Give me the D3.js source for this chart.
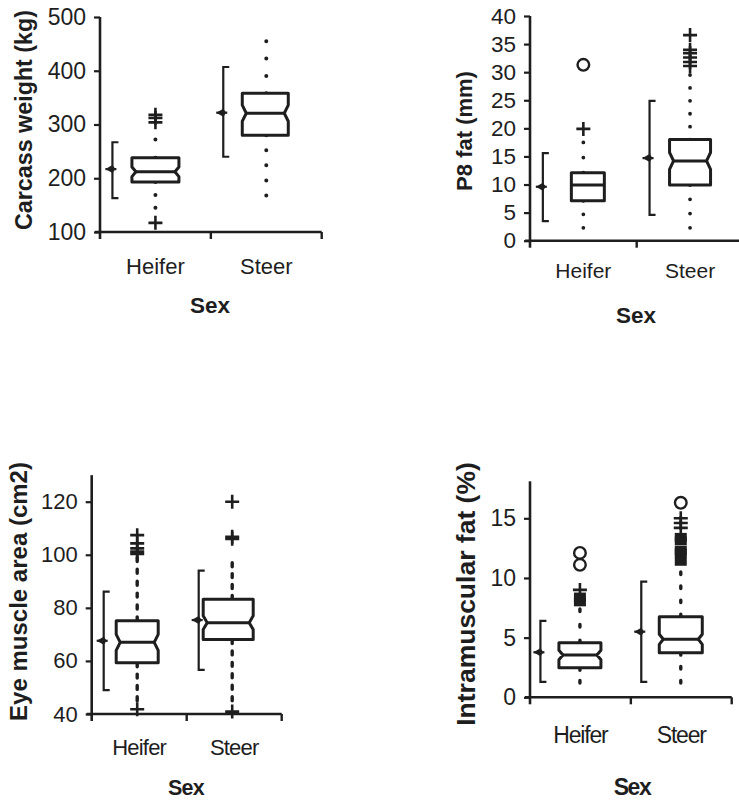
<!DOCTYPE html>
<html>
<head>
<meta charset="utf-8">
<script src="https://cdn.jsdelivr.net/npm/d3@7"></script>
<style>
  body { margin: 0; background: #fff; }
  svg { display: block; }
</style>
</head>
<body>
<svg id="chart" width="739" height="806"></svg>
<script>
const categories = ["Heifer", "Steer"];

// Carcass weight (kg)
const cwTicks = [100, 200, 300, 400, 500];
const cwQ1 = [193, 280];
const cwMedian = [212, 321];
const cwQ3 = [238, 358];
const cwNotch = [9, 15];
const cwLow = [145, 168];
const cwHigh = [272, 455];
const cwMean = [217, 322];
const cwSdLow = [163, 240];
const cwSdHigh = [267, 407];
const cwCross = [[117, 304, 312, 318], []];
const cwCircle = [[], []];
const cwSquare = [[], []];

// P8 fat (mm)
const p8Ticks = [0, 5, 10, 15, 20, 25, 30, 35, 40];
const p8Q1 = [7.1, 9.9];
const p8Median = [9.9, 14.2];
const p8Q3 = [12.1, 18.0];
const p8Notch = [0, 1.5];
const p8Low = [2.3, 2.3];
const p8High = [17.5, 29.5];
const p8Mean = [9.6, 14.7];
const p8SdLow = [3.5, 4.6];
const p8SdHigh = [15.6, 24.9];
const p8Cross = [[19.9], [31.1, 31.8, 32.6, 33.4, 34.0, 36.6]];
const p8Circle = [[31.3], []];
const p8Square = [[], []];

// Eye muscle area (cm2)
const emaTicks = [40, 60, 80, 100, 120];
const emaQ1 = [59.3, 68.1];
const emaMedian = [67.0, 74.4];
const emaQ3 = [75.1, 83.2];
const emaNotch = [3.0, 2.6];
const emaLow = [45, 45];
const emaHigh = [99, 97];
const emaMean = [67.6, 75.4];
const emaSdLow = [49, 56.6];
const emaSdHigh = [86.1, 94];
const emaCross = [[41.8, 100.3, 101.2, 102.4, 104.3, 107.4], [40.9, 106.0, 106.8, 120.0]];
const emaCircle = [[], []];
const emaSquare = [[], []];

// Intramuscular fat (%)
const imfTicks = [0, 5, 10, 15];
const imfQ1 = [2.48, 3.74];
const imfMedian = [3.54, 4.86];
const imfQ3 = [4.58, 6.76];
const imfNotch = [0.4, 0.42];
const imfLow = [1.2, 1.2];
const imfHigh = [7.4, 10.5];
const imfMean = [3.77, 5.5];
const imfSdLow = [1.3, 1.3];
const imfSdHigh = [6.4, 9.7];
const imfCross = [[9.0], [14.2, 14.6, 15.0]];
const imfCircle = [[11.1, 12.1], [16.3]];
const imfSquare = [[8.0, 8.4], [11.4, 12.1, 12.3, 13.1, 13.4]];

const ink = "#1e1e1e";
const font = "'Liberation Sans', Arial, Helvetica, sans-serif";
const svg = d3.select("#chart");

const panels = [
  {
    title: "Carcass weight (kg)", ticks: cwTicks, domain: [100, 500], top: 500,
    yRange: [232, 17], x0: 100, x1: 321.7,
    q1: cwQ1, med: cwMedian, q3: cwQ3, notch: cwNotch, low: cwLow, high: cwHigh,
    mean: cwMean, sdLow: cwSdLow, sdHigh: cwSdHigh,
    cross: cwCross, circle: cwCircle, square: cwSquare,
    boxW: [47, 46], boxDx: [0, -1], centerDx: 0, meanDx: -43,
    dotW: 4, dashLen: 0, dotGap: 16,
    tickFont: 23, catFont: 22, catLs: 0, catY: 274,
    titleFont: 23.3, titleX: 32, titleY: 120,
    sexFont: 22.5, sexLs: 0, sexX: 210, sexY: 313
  },
  {
    title: "P8 fat (mm)", ticks: p8Ticks, domain: [0, 40], top: 40,
    yRange: [240.7, 16], x0: 530, x1: 743.4,
    q1: p8Q1, med: p8Median, q3: p8Q3, notch: p8Notch, low: p8Low, high: p8High,
    mean: p8Mean, sdLow: p8SdLow, sdHigh: p8SdHigh,
    cross: p8Cross, circle: p8Circle, square: p8Square,
    boxW: [33, 41], boxDx: [4.5, 0], centerDx: 0, meanDx: -40.5,
    dotW: 3.8, dashLen: 0, dotGap: 12.5,
    tickFont: 22.5, catFont: 21, catLs: 0, catY: 278,
    titleFont: 22, titleX: 471.5, titleY: 131,
    sexFont: 22.5, sexLs: 0, sexX: 636, sexY: 322.7
  },
  {
    title: "Eye muscle area (cm2)", ticks: emaTicks, domain: [40, 120], top: 130,
    yRange: [714, 501.7], x0: 91.7, x1: 281.7,
    q1: emaQ1, med: emaMedian, q3: emaQ3, notch: emaNotch, low: emaLow, high: emaHigh,
    mean: emaMean, sdLow: emaSdLow, sdHigh: emaSdHigh,
    cross: emaCross, circle: emaCircle, square: emaSquare,
    boxW: [42, 50], boxDx: [0, -4], centerDx: -2, meanDx: -33.5,
    dotW: 3.4, dashLen: 4, dotGap: 12,
    tickFont: 22, catFont: 22, catLs: -0.8, catY: 755,
    titleFont: 24, titleX: 26.5, titleY: 591.5,
    sexFont: 21.5, sexLs: -0.8, sexX: 186, sexY: 795
  },
  {
    title: "Intramuscular fat (%)", ticks: imfTicks, domain: [0, 15], top: 18.1,
    yRange: [697.3, 518.3], x0: 530, x1: 731.7,
    q1: imfQ1, med: imfMedian, q3: imfQ3, notch: imfNotch, low: imfLow, high: imfHigh,
    mean: imfMean, sdLow: imfSdLow, sdHigh: imfSdHigh,
    cross: imfCross, circle: imfCircle, square: imfSquare,
    boxW: [42, 43], boxDx: [0, 0], centerDx: -0.5, meanDx: -39.5,
    dotW: 3.4, dashLen: 2.5, dotGap: 13.5,
    tickFont: 23, catFont: 23, catLs: -1.2, catY: 743,
    titleFont: 26.5, titleX: 475, titleY: 594,
    sexFont: 23, sexLs: -1.5, sexX: 632, sexY: 795
  }
];

function notchedBox(cx, w, yTop, yBot, yMed, nh, depth) {
  const l = cx - w / 2, r = cx + w / 2;
  const p = d3.path();
  if (nh <= 0) {
    p.rect(l, yTop, w, yBot - yTop);
    return p.toString();
  }
  p.moveTo(l, yTop);
  p.lineTo(r, yTop);
  p.lineTo(r, yMed - nh);
  p.lineTo(r - depth, yMed);
  p.lineTo(r, yMed + nh);
  p.lineTo(r, yBot);
  p.lineTo(l, yBot);
  p.lineTo(l, yMed + nh);
  p.lineTo(l + depth, yMed);
  p.lineTo(l, yMed - nh);
  p.closePath();
  return p.toString();
}

function drawPanel(p) {
  const g = svg.append("g");
  const y = d3.scaleLinear().domain(p.domain).range(p.yRange);
  const x = d3.scaleBand().domain(categories).range([p.x0, p.x1]);
  const cx = c => x(c) + x.bandwidth() / 2 + p.centerDx;
  const baseY = y(p.domain[0]);
  const topY = y(p.top);

  // y axis ticks and labels
  const ya = g.append("g")
    .attr("transform", `translate(${p.x0},0)`)
    .call(d3.axisLeft(y).tickValues(p.ticks).tickSize(6).tickPadding(8).tickSizeOuter(0));
  ya.select(".domain").remove();
  ya.attr("font-family", font).attr("font-size", p.tickFont);
  ya.selectAll(".tick line").attr("stroke", ink).attr("stroke-width", 2.2);
  ya.selectAll(".tick text").attr("fill", ink);

  // axis lines
  g.append("line")
    .attr("x1", p.x0).attr("x2", p.x0)
    .attr("y1", topY).attr("y2", baseY + 7)
    .attr("stroke", ink).attr("stroke-width", 2.6);
  g.append("line")
    .attr("x1", p.x0 - 5).attr("x2", p.x1)
    .attr("y1", baseY).attr("y2", baseY)
    .attr("stroke", ink).attr("stroke-width", 2.6);
  const bounds = [x(categories[1]), x.range()[1]];
  g.selectAll(".bound").data(bounds).enter().append("line")
    .attr("x1", d => d).attr("x2", d => d)
    .attr("y1", baseY).attr("y2", baseY + 7)
    .attr("stroke", ink).attr("stroke-width", 2.4);

  // category labels
  g.selectAll(".cat").data(categories).enter().append("text")
    .attr("x", c => x(c) + x.bandwidth() / 2)
    .attr("y", p.catY)
    .attr("text-anchor", "middle")
    .attr("font-family", font).attr("font-size", p.catFont)
    .attr("letter-spacing", p.catLs)
    .attr("fill", ink)
    .text(c => c);

  // axis titles
  g.append("text")
    .attr("transform", `translate(${p.titleX},${p.titleY}) rotate(-90)`)
    .attr("text-anchor", "middle")
    .attr("font-family", font).attr("font-size", p.titleFont).attr("font-weight", "bold")
    .attr("fill", ink)
    .text(p.title);
  g.append("text")
    .attr("x", p.sexX).attr("y", p.sexY)
    .attr("text-anchor", "middle")
    .attr("font-family", font).attr("font-size", p.sexFont).attr("font-weight", "bold")
    .attr("letter-spacing", p.sexLs)
    .attr("fill", ink)
    .text("Sex");

  categories.forEach((c, i) => {
    const xc = cx(c);
    const bx = xc + p.boxDx[i];
    const yTop = y(p.q3[i]), yBot = y(p.q1[i]), yMed = y(p.med[i]);
    const nh = p.notch[i] > 0 ? Math.abs(y(p.med[i] + p.notch[i]) - yMed) : 0;
    const depth = 4;

    // dotted whiskers, spaced so the last mark sits on the whisker end
    [[yTop, y(p.high[i])], [yBot, y(p.low[i])]].forEach(([a, b]) => {
      const dir = Math.sign(b - a);
      const len = Math.abs(b - a) - p.dashLen;
      const n = Math.max(1, Math.round(len / p.dotGap));
      const gap = len / n;
      g.append("line")
        .attr("x1", xc).attr("x2", xc).attr("y1", a).attr("y2", b + dir * 1.5)
        .attr("stroke", ink).attr("stroke-width", p.dotW)
        .attr("stroke-linecap", "round")
        .attr("stroke-dasharray", `${p.dashLen} ${gap - p.dashLen}`);
    });

    // box
    g.append("path")
      .attr("d", notchedBox(bx, p.boxW[i], yTop, yBot, yMed, nh, depth))
      .attr("fill", "#fff").attr("stroke", ink).attr("stroke-width", 3)
      .attr("stroke-linejoin", "round");
    const inset = nh > 0 ? depth : 0;
    g.append("line")
      .attr("x1", bx - p.boxW[i] / 2 + inset).attr("x2", bx + p.boxW[i] / 2 - inset)
      .attr("y1", yMed).attr("y2", yMed)
      .attr("stroke", ink).attr("stroke-width", 3);

    // mean ± SD bracket
    const mx = xc + p.meanDx;
    const yHi = y(p.sdHigh[i]), yLo = y(p.sdLow[i]), yM = y(p.mean[i]);
    g.append("path")
      .attr("d", `M${mx + 6},${yHi}H${mx}V${yLo}H${mx + 6}`)
      .attr("fill", "none").attr("stroke", ink).attr("stroke-width", 2.2);
    g.append("path")
      .attr("d", `M${mx - 7},${yM}L${mx},${yM - 4}L${mx + 3},${yM}L${mx},${yM + 4}Z`)
      .attr("fill", ink);
    g.append("line")
      .attr("x1", mx - 7).attr("x2", mx + 4).attr("y1", yM).attr("y2", yM)
      .attr("stroke", ink).attr("stroke-width", 2.2);

    // outliers: filled squares, crosses, circles
    g.selectAll(null).data(p.square[i]).enter().append("rect")
      .attr("x", xc - 6).attr("y", d => y(d) - 4.5)
      .attr("width", 12).attr("height", 9)
      .attr("fill", ink);
    g.selectAll(null).data(p.cross[i]).enter().append("path")
      .attr("d", d => `M${xc - 7},${y(d)}H${xc + 7}M${xc},${y(d) - 7}V${y(d) + 7}`)
      .attr("stroke", ink).attr("stroke-width", 2.6).attr("fill", "none");
    g.selectAll(null).data(p.circle[i]).enter().append("circle")
      .attr("cx", xc).attr("cy", d => y(d)).attr("r", 5.8)
      .attr("fill", "#fff").attr("stroke", ink).attr("stroke-width", 2.4);
  });
}

panels.forEach(drawPanel);
</script>
</body>
</html>
